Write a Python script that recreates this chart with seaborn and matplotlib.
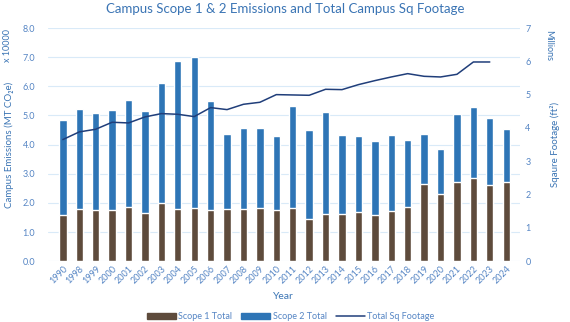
import numpy as np
import pandas as pd
import matplotlib
matplotlib.use("Agg")
import matplotlib.pyplot as plt
from matplotlib.patches import Patch
from matplotlib.lines import Line2D
import seaborn as sns

years = ["1990", "1998", "1999", "2000", "2001", "2002", "2003", "2004", "2005",
         "2006", "2007", "2008", "2009", "2010", "2011", "2012", "2013", "2014",
         "2015", "2016", "2017", "2018", "2019", "2020", "2021", "2022", "2023", "2024"]
# emissions in units of 10,000 MT CO2e
scope1 = [1.59, 1.78, 1.77, 1.77, 1.86, 1.64, 1.99, 1.79, 1.83,
          1.76, 1.79, 1.79, 1.82, 1.75, 1.82, 1.44, 1.62, 1.61,
          1.69, 1.59, 1.71, 1.85, 2.64, 2.30, 2.71, 2.86, 2.60, 2.71]
scope2 = [3.24, 3.45, 3.32, 3.40, 3.66, 3.51, 4.11, 5.07, 5.19,
          3.72, 2.59, 2.79, 2.76, 2.55, 3.52, 3.05, 3.49, 2.72,
          2.61, 2.52, 2.63, 2.29, 1.72, 1.54, 2.35, 2.43, 2.30, 1.82]
# total campus square footage in millions of ft2
sq_footage = [3.65, 3.88, 3.96, 4.17, 4.15, 4.33, 4.43, 4.41, 4.34,
              4.61, 4.55, 4.71, 4.77, 5.00, 4.99, 4.98, 5.16, 5.15,
              5.30, 5.42, 5.53, 5.63, 5.55, 5.53, 5.61, 5.98, 5.98, np.nan]

df = pd.DataFrame({"Year": years, "Scope 1": scope1, "Scope 2": scope2,
                   "Sq": sq_footage})
df["Total"] = df["Scope 1"] + df["Scope 2"]
df["pos"] = np.arange(len(df))

c_s1 = "#5E4B3C"
c_s2 = "#2E75B6"
c_line = "#203E7A"
c_text = "#3A74B4"
c_tick = "#5585C4"
c_grid = "#D9EAF8"
font = ["Lato", "DejaVu Sans"]

sns.set_theme(style="white")
plt.rcParams["font.family"] = font

fig = plt.figure(figsize=(5.7, 3.22), dpi=100)
ax = fig.add_axes([0.084, 0.189, 0.828, 0.724])

sns.barplot(data=df, x="Year", y="Total", color=c_s2, width=0.45,
            saturation=1, ax=ax, zorder=2)
sns.barplot(data=df, x="Year", y="Scope 1", color=c_s1, width=0.45,
            saturation=1, ax=ax, zorder=3)

ax.set_ylim(0, 8)
ax.set_yticks(np.arange(0, 8.1, 1.0))
ax.set_yticklabels([f"{v:.1f}" for v in np.arange(0, 8.1, 1.0)])
ax.set_xlim(-0.91, len(df) - 1 + 0.83)
ax.yaxis.grid(True, color=c_grid, lw=0.8, zorder=0)
ax.set_axisbelow(True)
for s in ax.spines.values():
    s.set_visible(False)
ax.tick_params(axis="y", length=0, labelsize=6.5, labelcolor=c_tick, pad=9)
ax.tick_params(axis="x", length=0, labelsize=6.5, labelcolor=c_tick, pad=2)
plt.setp(ax.get_xticklabels(), rotation=45, ha="right", rotation_mode="anchor")
ax.set_xlabel("Year", color=c_text, fontsize=7.5, labelpad=5)
ax.set_ylabel("Campus Emissions (MT CO\u2082e)", color=c_text, fontsize=7, labelpad=6)

ax2 = ax.twinx()
sns.lineplot(data=df, x="pos", y="Sq", color=c_line, lw=1.1, ax=ax2)
ax2.set_ylim(0, 7)
ax2.set_yticks(range(0, 8))
ax2.set_xlim(ax.get_xlim())
for s in ax2.spines.values():
    s.set_visible(False)
ax2.tick_params(axis="y", length=0, labelsize=6.5, labelcolor=c_tick, pad=4)
ax2.set_ylabel("Sqaure Footage (ft\u00b2)", color=c_text, fontsize=7, labelpad=14)
ax2.set_xlabel("")

fig.text(0.5, 0.972, "Campus Scope 1 & 2 Emissions and Total Campus Sq Footage",
         ha="center", va="center", color=c_text, fontsize=9.5)
fig.text(0.013, 0.86, "x 10000", rotation=90, ha="center", va="center",
         color=c_text, fontsize=6.5)
fig.text(0.962, 0.86, "Millions", rotation=270, ha="center", va="center",
         color=c_text, fontsize=6.5)

handles = [Patch(color=c_s1), Patch(color=c_s2),
           Line2D([], [], color=c_line, lw=1.1)]
fig.legend(handles, ["Scope 1 Total", "Scope 2 Total", "Total Sq Footage"],
           loc="center", bbox_to_anchor=(0.51, 0.016), ncol=3, frameon=False,
           fontsize=6.5, labelcolor=c_tick, handlelength=3.2, handleheight=0.6,
           columnspacing=1.0, handletextpad=0.3)

fig.savefig("out.png", dpi=100)
